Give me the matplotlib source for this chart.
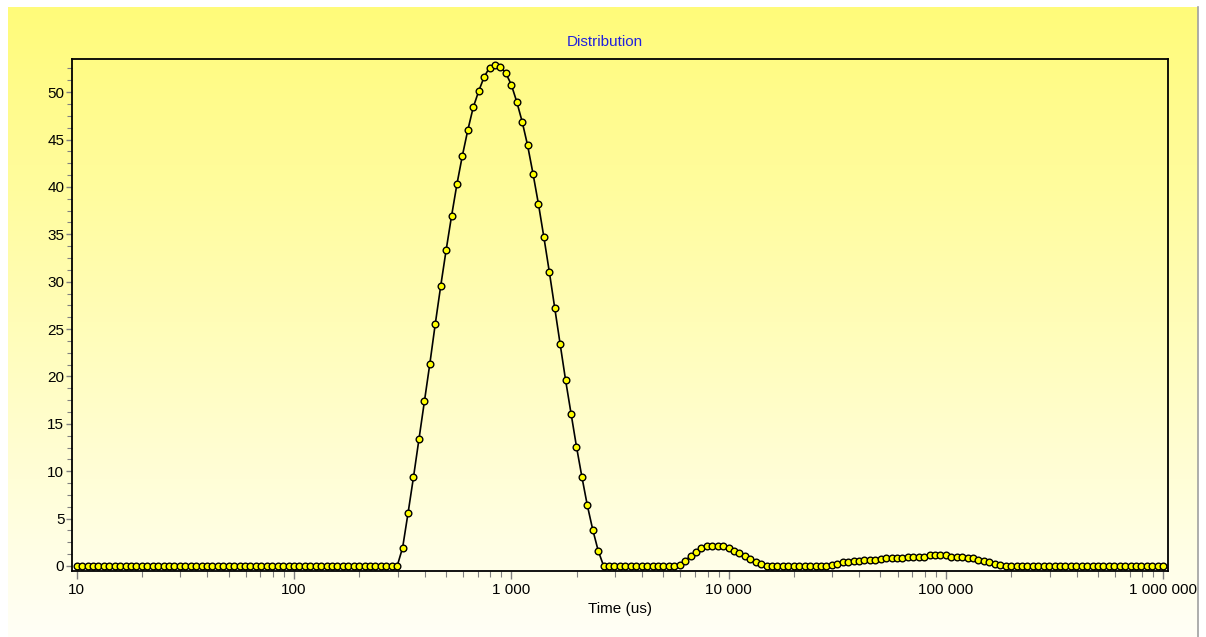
import numpy as np
import matplotlib
matplotlib.use("Agg")
import matplotlib.pyplot as plt
from matplotlib.ticker import FixedLocator, FuncFormatter, LogLocator, MultipleLocator, NullFormatter

plt.rcParams['font.family'] = ['Liberation Sans', 'DejaVu Sans']

# ---- data ----
# time grid of the instrument: 40 log-spaced points per decade, 10 us .. 1 000 000 us
time_us = np.logspace(1, 6, 201)

distribution = [
    # 0-19
    0, 0, 0, 0, 0, 0, 0, 0, 0, 0, 0, 0, 0, 0, 0, 0, 0, 0, 0, 0,
    # 20-39
    0, 0, 0, 0, 0, 0, 0, 0, 0, 0, 0, 0, 0, 0, 0, 0, 0, 0, 0, 0,
    # 40-59
    0, 0, 0, 0, 0, 0, 0, 0, 0, 0, 0, 0, 0, 0, 0, 0, 0, 0, 0, 0,
    # 60-79
    1.93, 5.58, 9.37, 13.37, 17.37, 21.3, 25.5, 29.5, 33.3, 36.9,
    40.3, 43.3, 46.0, 48.4, 50.1, 51.6, 52.6, 52.9, 52.7, 52.0,
    # 80-99
    50.8, 49.0, 46.9, 44.4, 41.4, 38.2, 34.7, 31.05, 27.2, 23.4,
    19.6, 16.07, 12.6, 9.4, 6.39, 3.82, 1.61, 0, 0, 0,
    # 100-119
    0, 0, 0, 0, 0, 0, 0, 0, 0, 0,
    0, 0.14, 0.56, 1.05, 1.51, 1.93, 2.06, 2.1, 2.1, 2.06,
    # 120-139
    1.86, 1.54, 1.33, 1.09, 0.77, 0.46, 0.18, 0, 0, 0,
    0, 0, 0, 0, 0, 0, 0, 0, 0, 0.07,
    # 140-159
    0.21, 0.37, 0.42, 0.52, 0.56, 0.62, 0.65, 0.67, 0.70, 0.80,
    0.82, 0.83, 0.86, 0.95, 0.97, 0.98, 1.0, 1.12, 1.13, 1.13,
    # 160-179
    1.12, 1.0, 0.97, 0.95, 0.83, 0.80, 0.65, 0.53, 0.39, 0.21,
    0.07, 0, 0, 0, 0, 0, 0, 0, 0, 0,
    # 180-200
    0, 0, 0, 0, 0, 0, 0, 0, 0, 0,
    0, 0, 0, 0, 0, 0, 0, 0, 0, 0, 0,
]

x_ticks = [10, 100, 1000, 10000, 100000, 1000000]
x_tick_labels = ["10", "100", "1 000", "10 000", "100 000", "1 000 000"]
y_ticks = [0, 5, 10, 15, 20, 25, 30, 35, 40, 45, 50]

title = "Distribution"
x_label = "Time (us)"

# ---- figure ----
W, H = 1206, 637
fig = plt.figure(figsize=(W / 100, H / 100), dpi=100)
fig.patch.set_facecolor('white')

# gradient background panel
bg = fig.add_axes([8 / W, 0, 1190 / W, 630 / H], zorder=-10)
top = np.array([255, 251, 122]) / 255
bot = np.array([255, 255, 246]) / 255
t = np.linspace(0, 1, 256)[:, None]
grad = top[None, :] * (1 - t) + bot[None, :] * t
bg.imshow(grad[:, None, :], aspect='auto', extent=[0, 1, 0, 1])
bg.set_axis_off()

# grey border line at the right edge of the panel
fig.add_artist(plt.Line2D([1198 / W, 1198 / W], [0, 630 / H], color='#a0a0a0', lw=1.2,
                          transform=fig.transFigure))

ax = fig.add_axes([72 / W, 1 - 571 / H, (1168 - 72) / W, (571 - 59) / H])
ax.set_facecolor('none')

ax.plot(time_us, distribution, color='black', lw=1.2, marker='o', ms=4.8,
        mfc='#ffff00', mec='black', mew=1.0, zorder=3, clip_on=False)

ax.set_xscale('log')
ax.set_xlim(9.52, 1.052e6)
ax.set_ylim(-0.53, 53.5)

ax.xaxis.set_major_locator(FixedLocator(x_ticks))
ax.xaxis.set_major_formatter(FuncFormatter(lambda v, p: dict(zip(x_ticks, x_tick_labels)).get(int(round(v)), "")))
ax.xaxis.set_minor_locator(LogLocator(base=10, subs=np.arange(2, 10)))
ax.xaxis.set_minor_formatter(NullFormatter())

ax.yaxis.set_major_locator(FixedLocator(y_ticks))
ax.yaxis.set_minor_locator(MultipleLocator(1.25))

for s in ax.spines.values():
    s.set_color('black')
    s.set_linewidth(1.3)

ax.tick_params(axis='both', which='both', direction='out', colors='#808080',
               labelcolor='black', labelsize=11)
ax.tick_params(axis='x', which='major', length=6, width=1, pad=3)
ax.tick_params(axis='x', which='minor', length=4.5, width=0.8)
ax.tick_params(axis='y', which='major', length=4.5, width=1, pad=1)
ax.tick_params(axis='y', which='minor', length=3.5, width=0.8)
ax.tick_params(top=False, right=False)

ax.set_title(title, color='#2222dd', fontsize=11, pad=9, x=(605 - 72) / (1168 - 72))
ax.set_xlabel(x_label, fontsize=11, labelpad=3)

fig.savefig("out.png", dpi=100)
